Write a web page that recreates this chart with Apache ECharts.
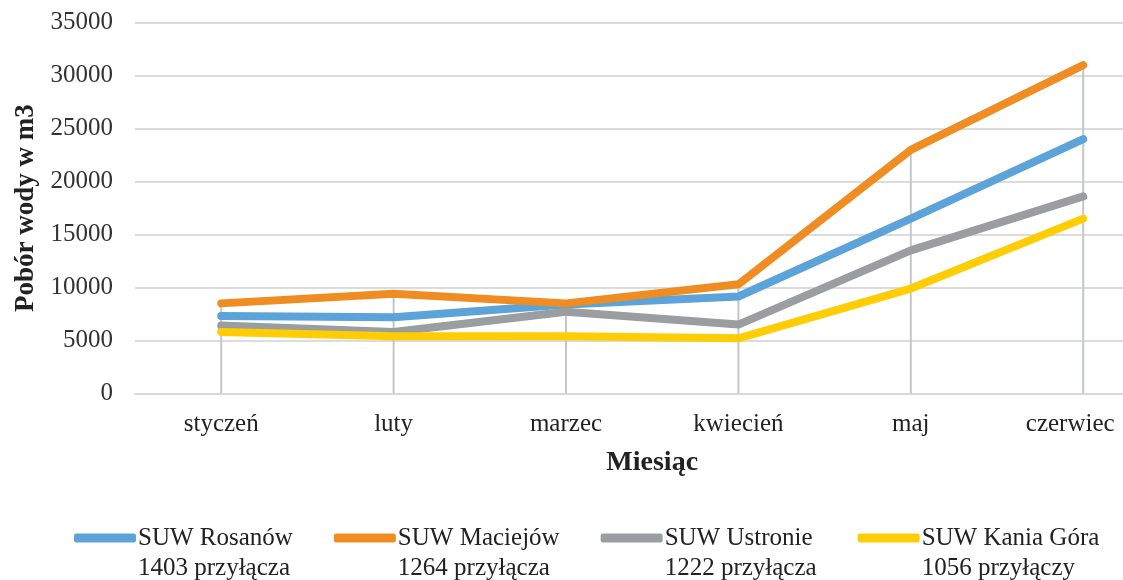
<!DOCTYPE html>
<html><head><meta charset="utf-8">
<script src="https://cdn.jsdelivr.net/npm/echarts@6/dist/echarts.min.js"></script>
<style>html,body{margin:0;padding:0;background:#fff}#c{width:1123px;height:580px}</style>
</head><body><div id="c"></div>
<script>
const months = ['styczeń','luty','marzec','kwiecień','maj','czerwiec'];
const rosanow  = [7300, 7200, 8400, 9150, 16500, 24000];
const maciejow = [8500, 9400, 8500, 10300, 23000, 31000];
const ustronie = [6400, 5800, 7700, 6500, 13500, 18600];
const kania    = [5800, 5400, 5400, 5200, 9900, 16500];
const seriesNames = ['SUW Rosanów','SUW Maciejów','SUW Ustronie','SUW Kania Góra'];
const seriesSub = ['1403 przyłącza','1264 przyłącza','1222 przyłącza','1056 przyłączy'];
const yTicks = [0,5000,10000,15000,20000,25000,30000,35000];

const allSeries = [rosanow, maciejow, ustronie, kania];
const colors = ['#5BA3D9','#EF8D22','#9A9EA1','#FFCD03'];
const dropTop = months.map((m,i)=>Math.max(...allSeries.map(s=>s[i])));
const serif = '"Liberation Serif","Times New Roman",serif';

const chart = echarts.init(document.getElementById('c'));
const lineSeries = allSeries.map((d,i)=>({
  name: seriesNames[i], type:'line', data:d, symbol:'none', z:3+i,
  lineStyle:{width:8,color:colors[i],cap:'round',join:'round'},
  itemStyle:{color:colors[i]}
}));
chart.setOption({
  animation:false,
  grid:{left:135, top:22.7, height:370.7, width:1034.4, outerBoundsMode:'none', containLabel:false},
  xAxis:{
    type:'category', data:months, boundaryGap:true,
    axisTick:{show:false},
    axisLine:{lineStyle:{color:'#d9d9d9',width:2}},
    axisLabel:{color:'#222',fontFamily:serif,fontSize:25,margin:19,interval:0,
      formatter:(v,i)=> i===months.length-1 ? '{last|'+v+'}' : v,
      rich:{last:{fontFamily:serif,fontSize:25,color:'#222',padding:[0,26,0,0]}}},
    name:'Miesiąc', nameLocation:'middle', nameGap:55,
    nameTextStyle:{fontFamily:serif,fontSize:28,fontWeight:'bold',color:'#222'}
  },
  yAxis:{
    type:'value', min:yTicks[0], max:yTicks[yTicks.length-1], interval:yTicks[1]-yTicks[0],
    axisLine:{show:false}, axisTick:{show:false},
    splitLine:{lineStyle:{color:'#dcdcdc',width:2}},
    axisLabel:{color:'#333',fontFamily:serif,fontSize:25,margin:22,formatter:(v)=>String(v)},
    name:'Pobór wody w m3', nameLocation:'middle', nameGap:84, nameRotate:90,
    nameTextStyle:{fontFamily:serif,fontSize:27,fontWeight:'bold',color:'#222'}
  },
  legend:{
    data:seriesNames, left:74, top:493, padding:0, itemGap:41, itemWidth:62, itemHeight:9,
    icon:'roundRect',
    formatter:(n)=> ' \n'+n+'\n'+seriesSub[seriesNames.indexOf(n)],
    textStyle:{fontFamily:serif,fontSize:25,color:'#222',lineHeight:30,padding:[0,0,0,-3]}
  },
  series:[
    {type:'bar', name:'drop', data:dropTop, barWidth:2, z:1, silent:true,
     itemStyle:{color:'#c4c7ca'}},
    ...lineSeries
  ]
});
</script></body></html>
